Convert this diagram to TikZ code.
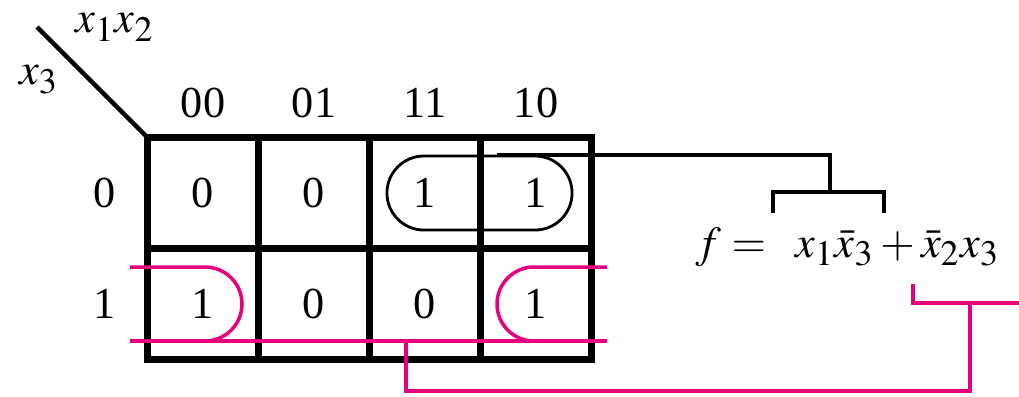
\documentclass[tikz,border=0pt]{standalone}
\usepackage{mathptmx}
\usepackage{fontspec}
\setmainfont{Liberation Serif}
\usepackage{tikz}
\usetikzlibrary{positioning,calc}
\definecolor{kmag}{RGB}{230,0,126}
\DeclareMathSizes{12.6}{12.6}{10.2}{8}

\begin{document}
\begin{tikzpicture}[x=0.01cm, y=-0.01cm, font=\fontsize{12.6}{15}\selectfont]
        % Style definitions
        \tikzset{
            cell/.style={draw, rectangle, minimum size=1.11cm, line width=2pt, inner sep=0pt, outer sep=0pt},
            lbl/.style={inner sep=0pt},
            conn/.style={line width=1.1pt},
            group/.style={draw, rectangle, rounded corners=0.37cm, line width=0.8pt, minimum width=1.85cm, minimum height=0.74cm, inner sep=0pt},
            magloop/.style={draw=kmag, line width=1pt}
        }
        \useasboundingbox (0,0) rectangle (1019,396);

        % Map cells
        \node [cell] (c000) at (203,193) {0};
        \node [cell] (c001) at (314,193) {0};
        \node [cell] (c011) at (425,193) {1};
        \node [cell] (c010) at (536,193) {1};
        \node [cell] (c100) at (203,304) {1};
        \node [cell] (c101) at (314,304) {0};
        \node [cell] (c111) at (425,304) {0};
        \node [cell] (c110) at (536,304) {1};

        % Labels
        \node [lbl] (h00) at (203,103) {00};
        \node [lbl] (h01) at (314,103) {01};
        \node [lbl] (h11) at (425,103) {11};
        \node [lbl] (h10) at (536,103) {10};
        \node [lbl] (r0) at (105,193) {0};
        \node [lbl] (r1) at (105,304) {1};
        \node [lbl] (vx12) at (115,27) {$x_1x_2$};
        \node [lbl] (vx3) at (39,80) {$x_3$};
        \coordinate (diag) at (37,27);
        \draw [line width=1.3pt] (diag) -- (c000.north west);

        % Expression
        \node [lbl, anchor=base] (eq) at (848,257) {$f = \;\;x_1\bar{x}_3 + \bar{x}_2x_3$};

        % Group x1 x3'
        \node [group] (g1) at (479.5,193) {};
        \coordinate (g1top) at ($(g1.north)+(0.175cm,0)$);
        \coordinate (b1mid) at (830,192);
        \coordinate (b1l) at (773,213);
        \coordinate (b1r) at (884,213);
        \draw [conn] (g1top) -| (b1mid);
        \draw [conn] (b1l) |- (b1mid) -| (b1r);

        % Group x2' x3 (wraps round)
        \draw [magloop] (130,267) -- (205,267) arc (-90:90:37) -- (130,341);
        \draw [magloop] (607,267) -- (534,267) arc (-90:-270:37) -- (607,341);
        \coordinate (m1) at (406,341);
        \coordinate (m2) at (970,303);
        \coordinate (b2l) at (913,284);
        \coordinate (b2r) at (1019,303);
        \draw [magloop] (130,341) -- (607,341);
        \draw [magloop] (m1) |- (970,391) -- (m2);
        \draw [magloop] (b2l) |- (b2r);
\end{tikzpicture}
\end{document}
